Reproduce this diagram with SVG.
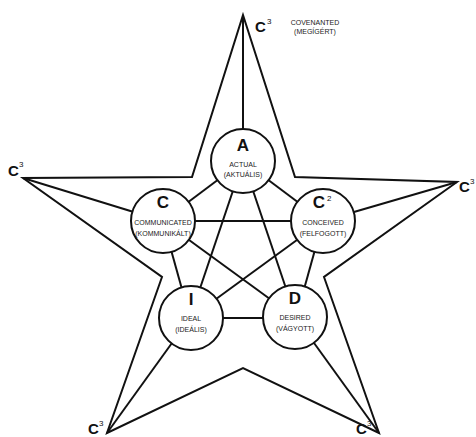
<svg xmlns="http://www.w3.org/2000/svg" width="476" height="437" viewBox="0 0 476 437">
<style>
.ln{stroke:#111;stroke-width:2;fill:none;stroke-linejoin:miter}
.nd{fill:#fff;stroke:#111;stroke-width:2}
.big{font-family:"Liberation Sans",Arial,sans-serif;font-size:17px;font-weight:bold;fill:#111;text-anchor:middle}
.sm{font-family:"Liberation Sans",Arial,sans-serif;font-size:7px;fill:#222;text-anchor:middle}
.c3{font-family:"Liberation Sans",Arial,sans-serif;font-size:15px;font-weight:bold;fill:#111}
.sup{font-family:"Liberation Sans",Arial,sans-serif;font-size:8px;fill:#111}
</style>
<rect width="476" height="437" fill="#fff"/>
<g id="connectors">
<polygon class="ln" points="243,15 295,177 457,182 324,277 379,433 243,368 107,433 162,277 23,178 192,177"/>
<line class="ln" x1="243" y1="15" x2="243" y2="161"/>
<line class="ln" x1="23" y1="178" x2="163" y2="221"/>
<line class="ln" x1="457" y1="182" x2="323" y2="221"/>
<line class="ln" x1="107" y1="433" x2="190" y2="318"/>
<line class="ln" x1="379" y1="433" x2="296" y2="318"/>
<line class="ln" x1="243" y1="161" x2="163" y2="221"/>
<line class="ln" x1="243" y1="161" x2="323" y2="221"/>
<line class="ln" x1="243" y1="161" x2="190" y2="318"/>
<line class="ln" x1="243" y1="161" x2="296" y2="318"/>
<line class="ln" x1="163" y1="221" x2="323" y2="221"/>
<line class="ln" x1="163" y1="221" x2="190" y2="318"/>
<line class="ln" x1="163" y1="221" x2="296" y2="318"/>
<line class="ln" x1="323" y1="221" x2="190" y2="318"/>
<line class="ln" x1="323" y1="221" x2="296" y2="318"/>
<line class="ln" x1="190" y1="318" x2="296" y2="318"/>
</g>
<g id="node-A">
<circle class="nd" cx="243" cy="161" r="32"/>
<text class="big" x="243" y="151">A</text>
<text class="sm" x="243" y="167">ACTUAL</text>
<text class="sm" x="243" y="177">(AKTUÁLIS)</text>
</g>
<g id="node-C">
<circle class="nd" cx="163" cy="221" r="32"/>
<text class="big" x="163" y="208">C</text>
<text class="sm" x="163" y="225">COMMUNICATED</text>
<text class="sm" x="163" y="236">(KOMMUNIKÁLT)</text>
</g>
<g id="node-C2">
<circle class="nd" cx="323" cy="221" r="32"/>
<text class="big" x="319" y="208">C</text>
<text class="sup" x="327" y="201">2</text>
<text class="sm" x="323" y="225">CONCEIVED</text>
<text class="sm" x="323" y="236">(FELFOGOTT)</text>
</g>
<g id="node-I">
<circle class="nd" cx="191" cy="318" r="32"/>
<text class="big" x="191" y="305">I</text>
<text class="sm" x="191" y="321">IDEAL</text>
<text class="sm" x="191" y="332">(IDEÁLIS)</text>
</g>
<g id="node-D">
<circle class="nd" cx="295" cy="317" r="32"/>
<text class="big" x="295" y="304">D</text>
<text class="sm" x="295" y="320">DESIRED</text>
<text class="sm" x="295" y="331">(VÁGYOTT)</text>
</g>
<g id="tips">
<text class="c3" x="255" y="32">C</text><text class="sup" x="267" y="24">3</text>
<text class="sm" x="315" y="25">COVENANTED</text>
<text class="sm" x="315" y="34">(MEGÍGÉRT)</text>
<text class="c3" x="8" y="176">C</text><text class="sup" x="19" y="167">3</text>
<text class="c3" x="459" y="192">C</text><text class="sup" x="470" y="184">3</text>
<text class="c3" x="88" y="434">C</text><text class="sup" x="99" y="426">3</text>
<text class="c3" x="356" y="434">C</text><text class="sup" x="367" y="426">3</text>
</g>
</svg>
